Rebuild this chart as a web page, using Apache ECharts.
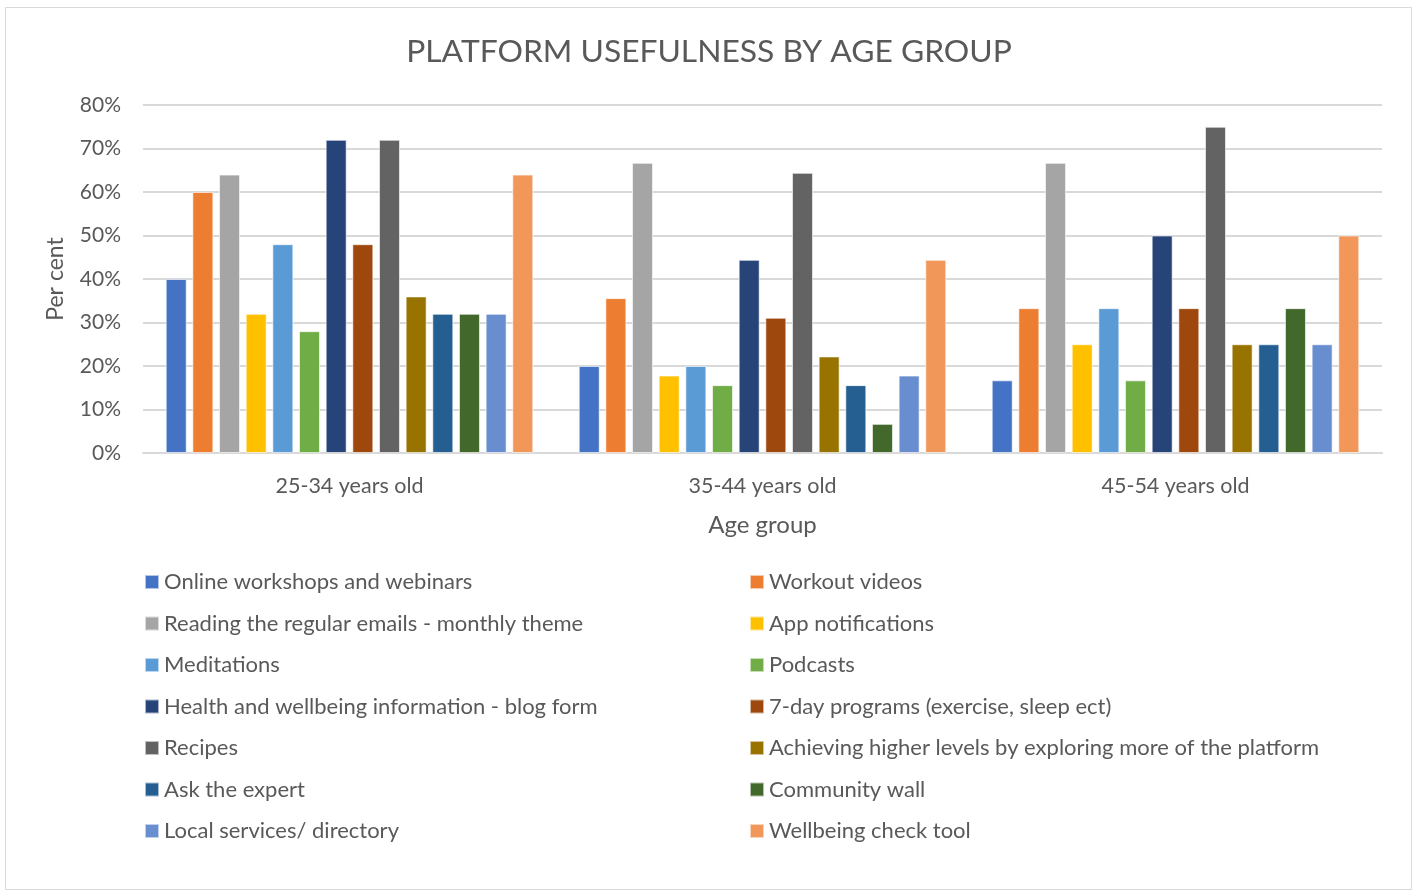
<!DOCTYPE html>
<html>
<head>
<meta charset="utf-8">
<script src="https://cdn.jsdelivr.net/npm/echarts@6/dist/echarts.min.js"></script>
<style>html,body{margin:0;padding:0;background:#fff}#c{width:1418px;height:893px}</style>
</head>
<body>
<div id="c"></div>
<script>
const categories = ['25-34 years old', '35-44 years old', '45-54 years old'];
const seriesNames = [
  'Online workshops and webinars', 'Workout videos',
  'Reading the regular emails - monthly theme', 'App notifications',
  'Meditations', 'Podcasts',
  'Health and wellbeing information - blog form', '7-day programs (exercise, sleep ect)',
  'Recipes', 'Achieving higher levels by exploring more of the platform',
  'Ask the expert', 'Community wall',
  'Local services/ directory', 'Wellbeing check tool'
];
const onlineWorkshops = [40, 20, 16.7];
const workoutVideos = [60, 35.6, 33.3];
const readingEmails = [64, 66.7, 66.7];
const appNotifications = [32, 17.8, 25];
const meditations = [48, 20, 33.3];
const podcasts = [28, 15.6, 16.7];
const healthBlog = [72, 44.4, 50];
const sevenDay = [48, 31.1, 33.3];
const recipes = [72, 64.4, 75];
const achieving = [36, 22.2, 25];
const askExpert = [32, 15.6, 25];
const communityWall = [32, 6.7, 33.3];
const localServices = [32, 17.8, 25];
const wellbeingCheck = [64, 44.4, 50];
const seriesValues = [onlineWorkshops, workoutVideos, readingEmails, appNotifications,
  meditations, podcasts, healthBlog, sevenDay, recipes, achieving, askExpert,
  communityWall, localServices, wellbeingCheck];
const colors = ['#4472C4', '#ED7D31', '#A5A5A5', '#FFC000', '#5B9BD5', '#70AD47',
  '#264478', '#9E480E', '#636363', '#997300', '#255E91', '#43682B', '#698ED0', '#F1975A'];
const yTicks = [0, 10, 20, 30, 40, 50, 60, 70, 80];

const FONT = 'Lato';
const TXT = '#595959';
const chart = echarts.init(document.getElementById('c'));
const legendBase = {
  orient: 'vertical', top: 571, padding: 0, itemWidth: 14, itemHeight: 14, itemGap: 19.5,
  icon: 'rect', textStyle: { fontFamily: FONT, fontSize: 22, color: TXT }, selectedMode: false
};
chart.setOption({
  color: colors,
  animation: false,
  textStyle: { fontFamily: FONT },
  title: {
    text: 'PLATFORM USEFULNESS BY AGE GROUP', left: 'center', top: 31,
    textStyle: { fontFamily: FONT, fontSize: 31.8, fontWeight: 'normal', color: TXT }
  },
  graphic: [{ type: 'rect', shape: { x: 5.5, y: 7.5, width: 1406, height: 882 },
    style: { fill: 'none', stroke: '#D9D9D9', lineWidth: 1 }, silent: true }],
  legend: [
    Object.assign({}, legendBase, { left: 144, data: seriesNames.filter((_, i) => i % 2 === 0) }),
    Object.assign({}, legendBase, { left: 749, data: seriesNames.filter((_, i) => i % 2 === 1) })
  ],
  grid: { left: 143, right: 36, top: 105, bottom: 440, containLabel: false },
  xAxis: {
    type: 'category', data: categories,
    name: 'Age group', nameLocation: 'middle', nameGap: 60,
    nameTextStyle: { fontFamily: FONT, fontSize: 24, color: TXT },
    axisLine: { lineStyle: { color: '#D9D9D9', width: 2 } },
    axisTick: { show: false },
    axisLabel: { fontFamily: FONT, fontSize: 21.5, color: TXT, margin: 22 }
  },
  yAxis: {
    type: 'value', min: 0, max: 80, interval: 10,
    name: 'Per cent', nameLocation: 'middle', nameGap: 76,
    nameTextStyle: { fontFamily: FONT, fontSize: 23, color: TXT },
    axisLine: { show: false }, axisTick: { show: false },
    splitLine: { lineStyle: { color: '#D9D9D9', width: 2 } },
    axisLabel: { fontFamily: FONT, fontSize: 21, color: TXT, margin: 22,
      formatter: v => yTicks.includes(v) ? v + '%' : '' }
  },
  series: seriesNames.map((n, i) => ({
    name: n, type: 'bar', data: seriesValues[i],
    barGap: '27%', barCategoryGap: '11%',
    itemStyle: { borderColor: 'rgba(255,255,255,0.6)', borderWidth: 1 }
  }))
});
</script>
</body>
</html>
